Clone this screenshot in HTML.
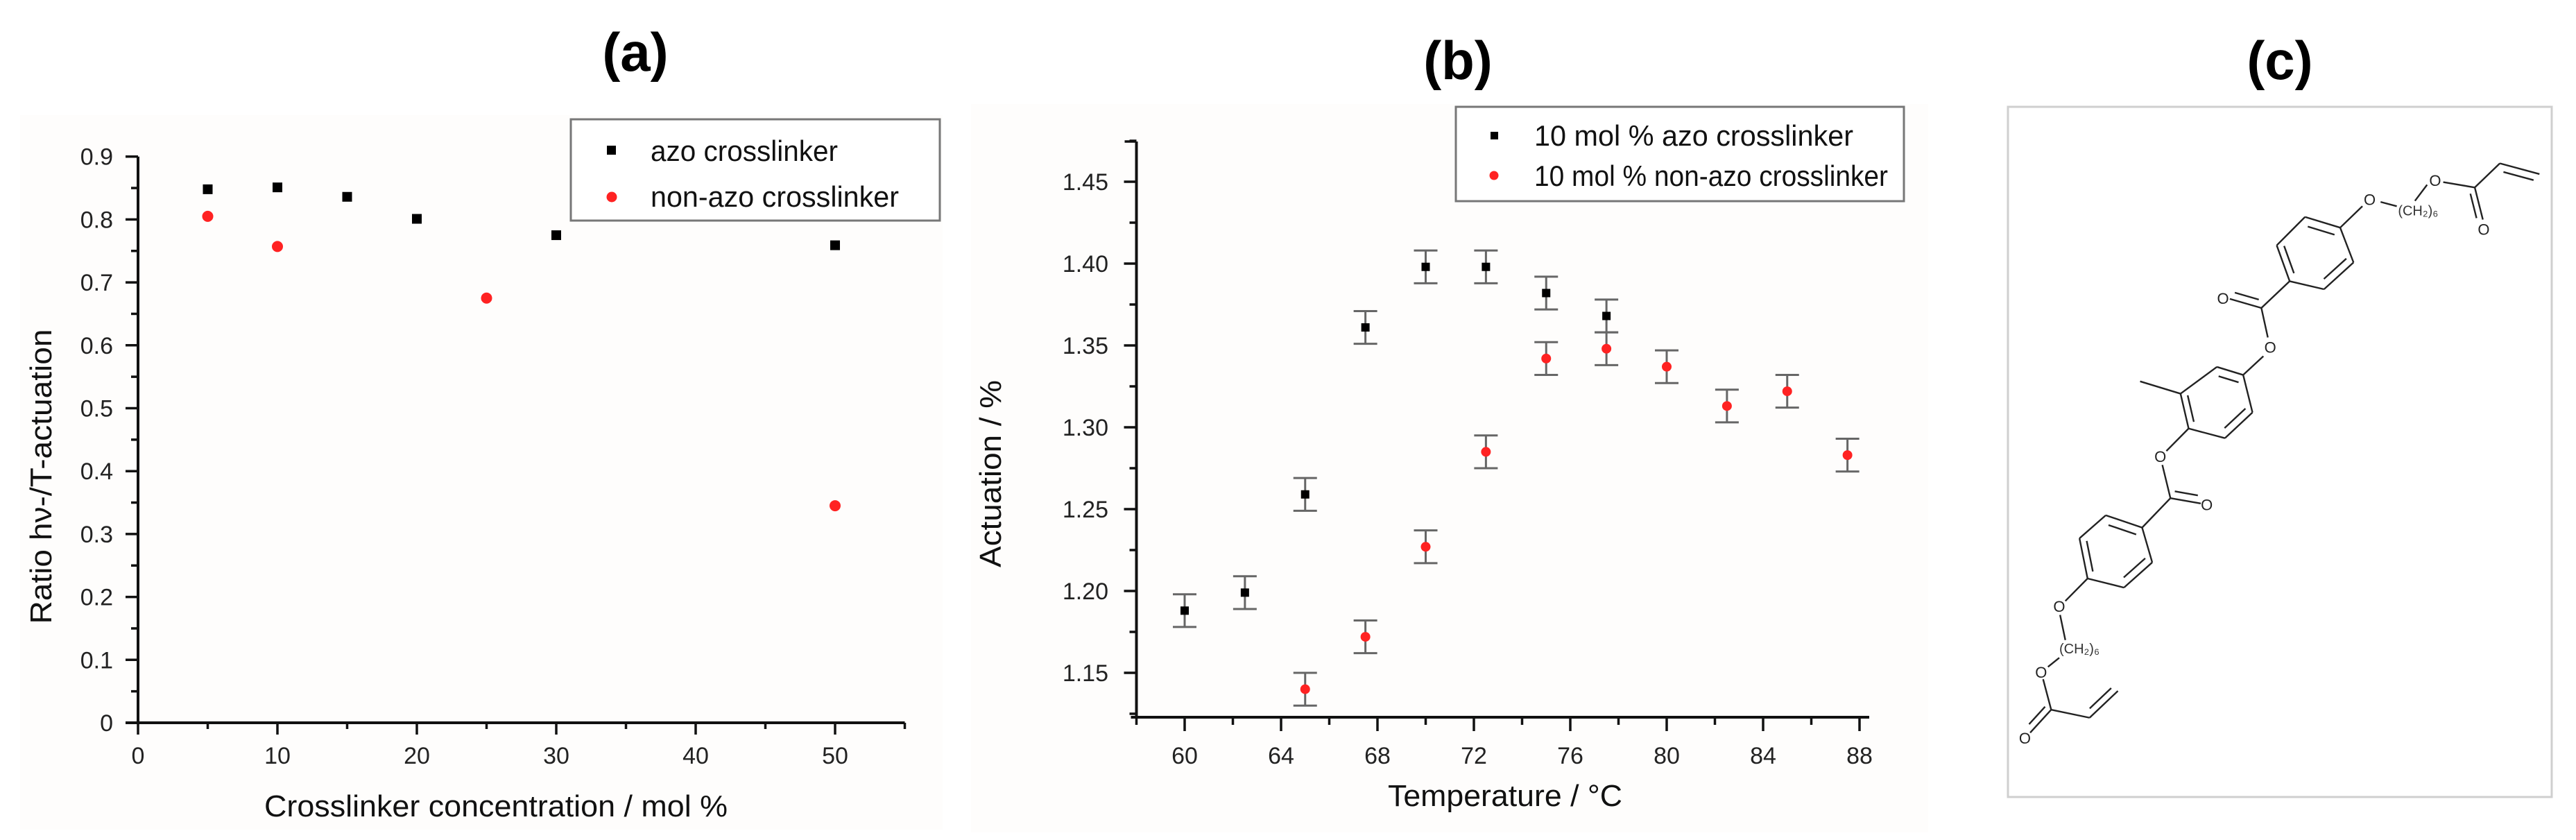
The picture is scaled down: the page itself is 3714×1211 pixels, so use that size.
<!DOCTYPE html>
<html><head><meta charset="utf-8"><style>
html,body{margin:0;padding:0;background:#fff;}
svg{display:block;font-family:"Liberation Sans",sans-serif;}
</style></head><body>
<svg id="fig" width="3714" height="1211" viewBox="0 0 3714 1211" xmlns="http://www.w3.org/2000/svg">
<rect x="0" y="0" width="3714" height="1211" fill="#fff"/>
<rect x="29" y="166" width="1330" height="1030" fill="#fefdfc"/>
<rect x="1400" y="150" width="1380" height="1050" fill="#fefdfc"/>
<text x="916" y="102" font-size="78" font-weight="bold" text-anchor="middle">(a)</text>
<text x="2102" y="114" font-size="78" font-weight="bold" text-anchor="middle">(b)</text>
<text x="3287" y="114" font-size="78" font-weight="bold" text-anchor="middle">(c)</text>
<g id="chartA"></g>
<g id="chartB"></g>
<g id="chartC">
<rect x="2895" y="154" width="784" height="995" fill="#fff" stroke="#cfcfcf" stroke-width="3"/>
</g>
</svg>
<script>
// ---- Chart (a) data ----
const aTicksX = [0,10,20,30,40,50];
const aTicksY = [0,0.1,0.2,0.3,0.4,0.5,0.6,0.7,0.8,0.9];
const aTickLabelsY = ["0","0.1","0.2","0.3","0.4","0.5","0.6","0.7","0.8","0.9"];
const aAzoX = [5,10,15,20,30,50];
const aAzoY = [0.848,0.851,0.836,0.801,0.775,0.759];
const aNonX = [5,10,25,50];
const aNonY = [0.805,0.757,0.675,0.345];
// ---- Chart (b) data ----
const bTicksX = [60,64,68,72,76,80,84,88];
const bTicksY = [1.15,1.20,1.25,1.30,1.35,1.40,1.45];
const bTickLabelsY = ["1.15","1.20","1.25","1.30","1.35","1.40","1.45"];
const bAzoX = [60,62.5,65,67.5,70,72.5,75,77.5];
const bAzoY = [1.188,1.199,1.259,1.361,1.398,1.398,1.382,1.368];
const bAzoErr = [0.01,0.01,0.01,0.01,0.01,0.01,0.01,0.01];
const bNonX = [65,67.5,70,72.5,75,77.5,80,82.5,85,87.5];
const bNonY = [1.140,1.172,1.227,1.285,1.342,1.348,1.337,1.313,1.322,1.283];
const bNonErr = [0.01,0.01,0.01,0.01,0.01,0.01,0.01,0.01,0.01,0.01];

const NS="http://www.w3.org/2000/svg";
function mk(parent,tag,attrs,text){const e=document.createElementNS(NS,tag);for(const k in attrs)e.setAttribute(k,attrs[k]);if(text!==undefined)e.textContent=text;parent.appendChild(e);return e;}

const xa=v=>199+v*20.1, ya=v=>1042-v*907;
const xb=v=>1708+(v-60)*34.75, yb=v=>380+(1.40-v)*2360;

// ---------- Chart A ----------
const A=document.getElementById('chartA');
let e;
e=mk(A,'line',{x1:xa(0),y1:ya(0.9),x2:xa(0),y2:ya(0)+1.5,stroke:'#111','stroke-width':4});


e=mk(A,'line',{x1:xa(0)-18,y1:ya(0),x2:xa(55),y2:ya(0),stroke:'#111','stroke-width':4});


for(let i=0;i<aTicksY.length;i++){
  const y=ya(aTicksY[i]);
  e=mk(A,'line',{x1:xa(0)-18,y1:y,x2:xa(0),y2:y,stroke:'#111','stroke-width':3.5});
  
  
  e=mk(A,'text',{x:163,y:y+12,'font-size':34,'text-anchor':'end',fill:'#222'},aTickLabelsY[i]);
  
  
  if(i<aTicksY.length-1){
    const ym=ya(aTicksY[i]+0.05);
    e=mk(A,'line',{x1:xa(0)-10,y1:ym,x2:xa(0),y2:ym,stroke:'#111','stroke-width':3.5});
    
    
  }
}
for(let i=0;i<aTicksX.length;i++){
  const x=xa(aTicksX[i]);
  e=mk(A,'line',{x1:x,y1:ya(0),x2:x,y2:ya(0)+17,stroke:'#111','stroke-width':3.5});
  
  
  e=mk(A,'text',{x:x,y:1101,'font-size':34,'text-anchor':'middle',fill:'#222'},String(aTicksX[i]));
  
  
  const xm=xa(aTicksX[i]+5);
  e=mk(A,'line',{x1:xm,y1:ya(0),x2:xm,y2:ya(0)+9,stroke:'#111','stroke-width':3.5});
  
  
}
e=mk(A,'text',{x:715,y:1177,'font-size':44,'text-anchor':'middle',fill:'#111',textLength:668,lengthAdjust:'spacingAndGlyphs'},'Crosslinker concentration / mol %');


e=mk(A,'text',{x:0,y:0,'font-size':44,'text-anchor':'middle',fill:'#111',transform:'translate(74,687) rotate(-90)',textLength:425,lengthAdjust:'spacingAndGlyphs'},'Ratio hν-/T-actuation');


for(let i=0;i<aAzoX.length;i++){
  e=mk(A,'rect',{x:xa(aAzoX[i])-7,y:ya(aAzoY[i])-7,width:14,height:14,fill:'#000'});
  
  
}
for(let i=0;i<aNonX.length;i++){
  e=mk(A,'circle',{cx:xa(aNonX[i]),cy:ya(aNonY[i]),r:8,fill:'#f22'});
  
  
}
e=mk(A,'rect',{x:823,y:172,width:532,height:146,fill:'#fff',stroke:'#777','stroke-width':3});


e=mk(A,'rect',{x:875,y:210,width:13,height:13,fill:'#000'});


e=mk(A,'circle',{cx:882,cy:284,r:7.5,fill:'#f22'});


e=mk(A,'text',{x:938,y:232,'font-size':42,fill:'#111',textLength:270,lengthAdjust:'spacingAndGlyphs'},'azo crosslinker');


e=mk(A,'text',{x:938,y:298,'font-size':42,fill:'#111',textLength:358,lengthAdjust:'spacingAndGlyphs'},'non-azo crosslinker');



// ---------- Chart B ----------
const B=document.getElementById('chartB');
e=mk(B,'line',{x1:xb(58),y1:204,x2:xb(58),y2:1036,stroke:'#111','stroke-width':4});


e=mk(B,'line',{x1:xb(58)-8,y1:1034,x2:2695,y2:1034,stroke:'#111','stroke-width':4});


e=mk(B,'line',{x1:xb(58)-17,y1:204,x2:xb(58),y2:204,stroke:'#111','stroke-width':3.5});


for(let i=0;i<bTicksY.length;i++){
  const y=yb(bTicksY[i]);
  e=mk(B,'line',{x1:xb(58)-18,y1:y,x2:xb(58),y2:y,stroke:'#111','stroke-width':3.5});
  
  
  e=mk(B,'text',{x:1598,y:y+12,'font-size':34,'text-anchor':'end',fill:'#222'},bTickLabelsY[i]);
  
  
  [-0.025,0.025].forEach(d=>{
    if(d<0 && i>0) return;
    const ym=yb(bTicksY[i]+d);
    e=mk(B,'line',{x1:xb(58)-10,y1:ym,x2:xb(58),y2:ym,stroke:'#111','stroke-width':3.5});
    
    
  });
}
for(let i=0;i<bTicksX.length;i++){
  const x=xb(bTicksX[i]);
  e=mk(B,'line',{x1:x,y1:1034,x2:x,y2:1054,stroke:'#111','stroke-width':3.5});
  
  
  e=mk(B,'text',{x:x,y:1101,'font-size':34,'text-anchor':'middle',fill:'#222'},String(bTicksX[i]));
  
  
  const xm=xb(bTicksX[i]-2);
  e=mk(B,'line',{x1:xm,y1:1034,x2:xm,y2:1045,stroke:'#111','stroke-width':3.5});
  
  
}
e=mk(B,'text',{x:2170,y:1162,'font-size':44,'text-anchor':'middle',fill:'#111',textLength:338,lengthAdjust:'spacingAndGlyphs'},'Temperature / °C');


e=mk(B,'text',{x:0,y:0,'font-size':44,'text-anchor':'middle',fill:'#111',transform:'translate(1443,683) rotate(-90)',textLength:270,lengthAdjust:'spacingAndGlyphs'},'Actuation / %');


function errBar(x,v,err){
  const g=mk(B,'g',{stroke:'#666','stroke-width':3});
  mk(g,'line',{x1:x,y1:yb(v+err),x2:x,y2:yb(v-err)});
  mk(g,'line',{x1:x-17,y1:yb(v+err),x2:x+17,y2:yb(v+err)});
  mk(g,'line',{x1:x-17,y1:yb(v-err),x2:x+17,y2:yb(v-err)});
  return g;
}
for(let i=0;i<bAzoX.length;i++){
  e=errBar(xb(bAzoX[i]),bAzoY[i],bAzoErr[i]);
  
  
  e=mk(B,'rect',{x:xb(bAzoX[i])-6,y:yb(bAzoY[i])-6,width:12,height:12,fill:'#000'});
  
  
}
for(let i=0;i<bNonX.length;i++){
  e=errBar(xb(bNonX[i]),bNonY[i],bNonErr[i]);
  
  
  e=mk(B,'circle',{cx:xb(bNonX[i]),cy:yb(bNonY[i]),r:7,fill:'#f22'});
  
  
}
e=mk(B,'rect',{x:2099,y:154,width:646,height:136,fill:'#fff',stroke:'#777','stroke-width':3});


e=mk(B,'rect',{x:2149,y:190,width:11,height:11,fill:'#000'});


e=mk(B,'circle',{cx:2154,cy:253,r:6.5,fill:'#f22'});


e=mk(B,'text',{x:2212,y:210,'font-size':42,fill:'#111',textLength:460,lengthAdjust:'spacingAndGlyphs'},'10 mol % azo crosslinker');


e=mk(B,'text',{x:2212,y:268,'font-size':42,fill:'#111',textLength:510,lengthAdjust:'spacingAndGlyphs'},'10 mol % non-azo crosslinker');



// ---------- Molecule (c) ----------
const C=document.getElementById('chartC');
const X=z=>2800+z/1.716, Y=z=>z/1.295;
function bond(a,b,dbl){
  mk(C,'line',{x1:X(a[0]),y1:Y(a[1]),x2:X(b[0]),y2:Y(b[1]),stroke:'#222','stroke-width':2.4});
  if(dbl){
    const dx=b[0]-a[0],dy=b[1]-a[1],L=Math.hypot(dx,dy),nx=-dy/L*dbl,ny=dx/L*dbl;
    mk(C,'line',{x1:X(a[0]+nx+dx*0.12),y1:Y(a[1]+ny+dy*0.12),x2:X(b[0]+nx-dx*0.12),y2:Y(b[1]+ny-dy*0.12),stroke:'#222','stroke-width':2.4});
  }
}
function ring(p,inner){
  for(let i=0;i<6;i++) bond(p[i],p[(i+1)%6],inner.includes(i)?16:0);
}
function atom(p,t){
  mk(C,'text',{x:X(p[0]),y:Y(p[1])+8,'font-size':22,'text-anchor':'middle',fill:'#222'},t);
}
const r1=[[898,405],[985,425],[1018,490],[945,540],[860,525],[828,458]];
const r2=[[680,685],[745,700],[768,770],[700,818],[610,800],[590,735]];
const r3=[[405,962],[495,985],[520,1050],[450,1097],[360,1080],[340,1005]];
ring(r1,[0,2,4]);ring(r2,[0,2,4]);ring(r3,[0,2,4]);
bond([1380,305],[1478,325],14);
bond([1380,305],[1318,350]);
bond([1318,350],[1338,410],14);
bond([1318,350],[1240,340]);
bond([1200,345],[1170,375]);
bond([1085,377],[1125,385]);
bond([1040,385],[985,425]);
bond([860,525],[790,575]);
bond([790,575],[712,558],14);
bond([790,575],[806,630]);
bond([795,665],[745,700]);
bond([590,735],[490,712]);
bond([610,800],[555,842]);
bond([545,868],[565,930]);
bond([565,930],[640,940],-14);
bond([565,930],[495,985]);
bond([360,1080],[305,1122]);
bond([292,1148],[305,1195]);
bond([290,1228],[262,1245]);
bond([250,1268],[270,1325]);
bond([270,1325],[218,1368],14);
bond([270,1325],[365,1340]);
bond([365,1340],[435,1290],-14);
atom([1220,337],'O');atom([1340,428],'O');atom([1058,372],'O');
atom([695,557],'O');atom([812,648],'O');atom([540,852],'O');
atom([655,942],'O');atom([290,1132],'O');atom([245,1255],'O');atom([205,1378],'O');
e=mk(C,'text',{x:X(1128),y:Y(402),'font-size':20,fill:'#333'},'(CH₂)₆');


e=mk(C,'text',{x:X(290),y:Y(1220),'font-size':20,fill:'#333'},'(CH₂)₆');


</script>
</body></html>
